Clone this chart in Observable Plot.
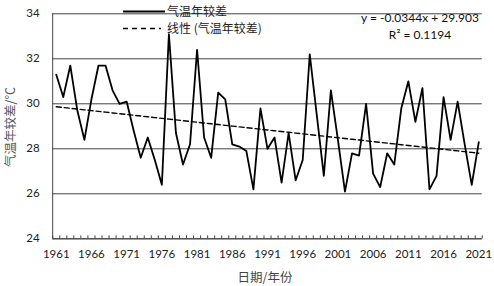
<!DOCTYPE html>
<html>
<head>
<meta charset="utf-8">
<script src="https://cdn.jsdelivr.net/npm/d3@7"></script>
<script src="https://cdn.jsdelivr.net/npm/@observablehq/plot@0.6"></script>
<style>
  html, body { margin: 0; padding: 0; background: #fff; }
  #chart svg { display: block; }
</style>
</head>
<body>
<div id="chart"></div>
<script>
const years = d3.range(1961, 2022);
const values = [
  31.3, 30.3, 31.7, 29.7, 28.4, 30.2, 31.7, 31.7, 30.6, 30.0,
  30.1, 28.8, 27.6, 28.5, 27.5, 26.4, 33.1, 28.7, 27.3, 28.2,
  32.4, 28.5, 27.6, 30.5, 30.2, 28.2, 28.1, 27.9, 26.2, 29.8,
  28.0, 28.5, 26.5, 28.7, 26.6, 27.5, 32.2, 29.5, 26.8, 30.6,
  28.4, 26.1, 27.8, 27.7, 30.0, 26.9, 26.3, 27.8, 27.3, 29.8,
  31.0, 29.2, 30.7, 26.2, 26.8, 30.3, 28.4, 30.1, 28.2, 26.4, 28.3
];
const slope = -0.0344;
const intercept = 29.903;
const rSquared = 0.1194;
const yTicks = [24, 26, 28, 30, 32, 34];
const xLabelYears = d3.range(1961, 2022, 5);
const seriesName = "气温年较差";
const trendName = "线性 (气温年较差)";
const xTitle = "日期/年份";
const yTitle = "气温年较差/℃";

const data = years.map((yr, i) => ({year: yr, value: values[i], trend: slope * (i + 1) + intercept}));
const boundaries = d3.range(years[0] - 0.5, years[years.length - 1] + 1, 1);

const numFont = "Lato, 'Open Sans', sans-serif";
const cjkFont = "'Noto Sans CJK SC', sans-serif";

const plot = Plot.plot({
  width: 494,
  height: 286,
  marginLeft: 52.2,
  marginRight: 12.2,
  marginTop: 13.3,
  marginBottom: 47.7,
  style: {fontFamily: numFont, fontSize: "11.5px", color: "#222", background: "#fff"},
  x: {domain: [years[0] - 0.5, years[years.length - 1] + 0.5]},
  y: {domain: [24, 34]},
  marks: [
    Plot.axisY({ticks: yTicks, tickSize: 0, tickPadding: 13, label: null, tickFormat: d => String(d), fill: "#222"}),
    Plot.tickY(yTicks, {y: d => d, x1: years[0] - 0.5, x2: years[0] - 0.5 + 0.45, stroke: "#444"}),
    Plot.axisX({ticks: xLabelYears, tickSize: 0, tickPadding: 11, label: null, tickFormat: d => String(d), fill: "#222"}),
    Plot.ruleX(boundaries, {x: d => d, y1: 24, y2: 24 + 0.13, stroke: "#444"}),
    Plot.ruleY([24], {stroke: "#444"}),
    Plot.ruleX([years[0] - 0.5], {stroke: "#444"}),
    Plot.line(data, {x: "year", y: "trend", stroke: "#000", strokeWidth: 1.4, strokeDasharray: "5,3"}),
    Plot.line(data, {x: "year", y: "value", stroke: "#000", strokeWidth: 1.8})
  ]
});

const svg = d3.select(plot);
// legend
const lg = svg.append("g").attr("text-anchor", "start");
lg.append("line").attr("x1", 123).attr("x2", 165).attr("y1", 11.5).attr("y2", 11.5)
  .attr("stroke", "#000").attr("stroke-width", 2.2);
lg.append("text").attr("x", 167).attr("y", 11.5).attr("dy", "0.35em").attr("text-anchor", "start")
  .style("font-family", cjkFont).style("font-size", "12px").attr("fill", "#222").text(seriesName);
lg.append("line").attr("x1", 123).attr("x2", 161).attr("y1", 28.5).attr("y2", 28.5)
  .attr("stroke", "#000").attr("stroke-width", 1.6).attr("stroke-dasharray", "5,4");
lg.append("text").attr("x", 167).attr("y", 28.5).attr("dy", "0.35em").attr("text-anchor", "start")
  .style("font-family", cjkFont).style("font-size", "12px").attr("fill", "#222").text(trendName);
// equation
svg.append("text").attr("x", 420).attr("y", 18).attr("dy", "0.35em").attr("text-anchor", "middle")
  .style("font-family", numFont).style("font-size", "12px").attr("fill", "#111")
  .text(`y = ${slope}x + ${intercept}`);
svg.append("text").attr("x", 420).attr("y", 35).attr("dy", "0.35em").attr("text-anchor", "middle")
  .style("font-family", numFont).style("font-size", "12px").attr("fill", "#111")
  .text(`R² = ${rSquared}`);
// axis titles
svg.append("text").attr("x", 265).attr("y", 278).attr("dy", "0.35em").attr("text-anchor", "middle")
  .style("font-family", cjkFont).style("font-size", "12.5px").attr("fill", "#444").text(xTitle);
svg.append("text").attr("transform", "translate(11,127) rotate(-90)").attr("dy", "0.35em").attr("text-anchor", "middle")
  .style("font-family", cjkFont).style("font-size", "12.5px").attr("fill", "#595959").text(yTitle);

document.getElementById("chart").appendChild(plot);
</script>
</body>
</html>
